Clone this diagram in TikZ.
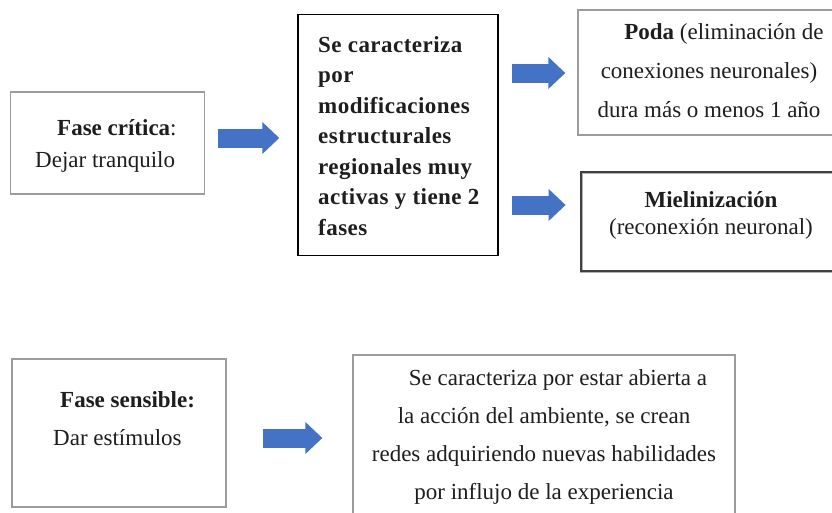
\documentclass[tikz,border=0pt]{standalone}
\usepackage{fontspec}
\setmainfont{Liberation Serif}
\newfontfamily\spacedserif[LetterSpace=2]{Liberation Serif}
\usetikzlibrary{arrows.meta,calc}
\definecolor{arrowblue}{HTML}{4472C4}
\definecolor{boxgray}{HTML}{9C9C9C}
\definecolor{txtc}{HTML}{1E1E1E}
\begin{document}
\begin{tikzpicture}[x=1pt,y=-1pt,
  graybox/.style={draw=boxgray, line width=1.3pt, fill=white, inner sep=0pt},
  blackbox/.style={draw=black, line width=1.4pt, fill=white, inner sep=0pt},
  dblbox/.style={draw=gray!60, line width=0.8pt, double=black!75, double distance=1.4pt, fill=white, inner sep=0pt},
  txt/.style={inner sep=0pt, text=txtc},
  blk/.style={draw=arrowblue, line width=19pt, -{Triangle[length=17pt,width=31pt]}}
]
\useasboundingbox (0,0) rectangle (832,512);
\fill[white] (0,0) rectangle (832,512);
% boxes
\node[graybox, minimum width=194pt, minimum height=102pt] (b1) at (107.5,143) {};
\node[blackbox, minimum width=200pt, minimum height=241pt] (b2) at (398,135) {};
\node[graybox, minimum width=270pt, minimum height=125pt] (poda) at (713,72.5) {};
\node[dblbox, minimum width=270pt, minimum height=99pt] (miel) at (716,221.5) {};
\node[graybox, minimum width=214pt, minimum height=148pt] (fs) at (119,433) {};
\node[graybox, minimum width=382pt, minimum height=175pt] (br) at (544,442.5) {};
% texts (base anchor = baseline of last line)
\node[txt, anchor=base west, align=left, font=\fontsize{23}{32}\selectfont] (t1) at (35,167)
  {\hspace*{22pt}\textbf{Fase crítica}:\\Dejar tranquilo};
\node[txt, anchor=base west, align=left, font=\fontsize{23}{30.5}\spacedserif\bfseries] (t2) at (318,235)
  {Se caracteriza\\por\\modificaciones\\estructurales\\regionales muy\\activas y tiene 2\\fases};
\node[txt, anchor=base, align=center, font=\fontsize{23}{39}\selectfont] (t3) at (709,117)
  {\hspace*{30pt}\textbf{Poda} (eliminación de\\conexiones neuronales)\\dura más o menos 1 año};
\node[txt, anchor=base, align=center, font=\fontsize{23}{27}\selectfont] (t4) at (711,234)
  {\textbf{Mielinización}\\(reconexión neuronal)};
\node[txt, anchor=base west, align=left, font=\fontsize{23}{38}\selectfont] (t5) at (53,445)
  {\hspace*{7pt}\textbf{Fase sensible:}\\Dar estímulos};
\node[txt, anchor=base, align=center, font=\fontsize{23}{38}\selectfont] (t6) at (544,499)
  {\hspace*{28pt}Se caracteriza por estar abierta a\\la acción del ambiente, se crean\\redes adquiriendo nuevas habilidades\\por influjo de la experiencia};
% arrows
\coordinate (y1) at (0,138);
\coordinate (y2) at (0,73);
\coordinate (y3) at (0,205);
\coordinate (y4) at (0,438);
\draw[blk] ([xshift=13pt]b1.east |- y1) -- ([xshift=-18pt]b2.west |- y1);
\draw[blk] ([xshift=13pt]b2.east |- y2) -- ([xshift=-12pt]poda.west |- y2);
\draw[blk] ([xshift=13pt]b2.east |- y3) -- ([xshift=-15pt]miel.west |- y3);
\draw[blk] ([xshift=36pt]fs.east |- y4) -- ([xshift=-30pt]br.west |- y4);
\end{tikzpicture}
\end{document}
